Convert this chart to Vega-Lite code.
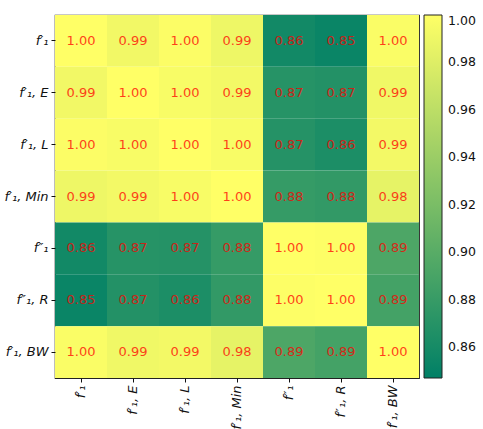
{
  "$schema": "https://vega.github.io/schema/vega-lite/v6.json",
  "autosize": "none",
  "width": 364,
  "height": 363,
  "padding": {"left": 55, "top": 15, "right": 64, "bottom": 51},
  "background": "white",
  "config": {
    "view": {"stroke": "#222", "strokeWidth": 1.2},
    "font": "DejaVu Sans",
    "axis": {"labelFont": "DejaVu Sans", "labelColor": "#111", "tickColor": "#111", "domain": false, "grid": false, "title": null, "tickSize": 4, "labelFontSize": 13, "labelFontStyle": "italic", "labelPadding": 3}
  },
  "data": {
    "values": [
      {"r": "f′₁", "c": "f′₁", "v": 1.0},
      {"r": "f′₁", "c": "f′₁, E", "v": 0.992},
      {"r": "f′₁", "c": "f′₁, L", "v": 0.998},
      {"r": "f′₁", "c": "f′₁, Min", "v": 0.99},
      {"r": "f′₁", "c": "f″₁", "v": 0.858},
      {"r": "f′₁", "c": "f″₁, R", "v": 0.853},
      {"r": "f′₁", "c": "f′₁, BW", "v": 0.997},
      {"r": "f′₁, E", "c": "f′₁", "v": 0.992},
      {"r": "f′₁, E", "c": "f′₁, E", "v": 1.0},
      {"r": "f′₁, E", "c": "f′₁, L", "v": 0.996},
      {"r": "f′₁, E", "c": "f′₁, Min", "v": 0.993},
      {"r": "f′₁, E", "c": "f″₁", "v": 0.87},
      {"r": "f′₁, E", "c": "f″₁, R", "v": 0.868},
      {"r": "f′₁, E", "c": "f′₁, BW", "v": 0.991},
      {"r": "f′₁, L", "c": "f′₁", "v": 0.998},
      {"r": "f′₁, L", "c": "f′₁, E", "v": 0.996},
      {"r": "f′₁, L", "c": "f′₁, L", "v": 1.0},
      {"r": "f′₁, L", "c": "f′₁, Min", "v": 0.996},
      {"r": "f′₁, L", "c": "f″₁", "v": 0.869},
      {"r": "f′₁, L", "c": "f″₁, R", "v": 0.864},
      {"r": "f′₁, L", "c": "f′₁, BW", "v": 0.993},
      {"r": "f′₁, Min", "c": "f′₁", "v": 0.99},
      {"r": "f′₁, Min", "c": "f′₁, E", "v": 0.993},
      {"r": "f′₁, Min", "c": "f′₁, L", "v": 0.996},
      {"r": "f′₁, Min", "c": "f′₁, Min", "v": 1.0},
      {"r": "f′₁, Min", "c": "f″₁", "v": 0.879},
      {"r": "f′₁, Min", "c": "f″₁, R", "v": 0.877},
      {"r": "f′₁, Min", "c": "f′₁, BW", "v": 0.985},
      {"r": "f″₁", "c": "f′₁", "v": 0.858},
      {"r": "f″₁", "c": "f′₁, E", "v": 0.87},
      {"r": "f″₁", "c": "f′₁, L", "v": 0.869},
      {"r": "f″₁", "c": "f′₁, Min", "v": 0.879},
      {"r": "f″₁", "c": "f″₁", "v": 1.0},
      {"r": "f″₁", "c": "f″₁, R", "v": 0.999},
      {"r": "f″₁", "c": "f′₁, BW", "v": 0.893},
      {"r": "f″₁, R", "c": "f′₁", "v": 0.853},
      {"r": "f″₁, R", "c": "f′₁, E", "v": 0.868},
      {"r": "f″₁, R", "c": "f′₁, L", "v": 0.864},
      {"r": "f″₁, R", "c": "f′₁, Min", "v": 0.877},
      {"r": "f″₁, R", "c": "f″₁", "v": 0.999},
      {"r": "f″₁, R", "c": "f″₁, R", "v": 1.0},
      {"r": "f″₁, R", "c": "f′₁, BW", "v": 0.888},
      {"r": "f′₁, BW", "c": "f′₁", "v": 0.997},
      {"r": "f′₁, BW", "c": "f′₁, E", "v": 0.991},
      {"r": "f′₁, BW", "c": "f′₁, L", "v": 0.993},
      {"r": "f′₁, BW", "c": "f′₁, Min", "v": 0.985},
      {"r": "f′₁, BW", "c": "f″₁", "v": 0.893},
      {"r": "f′₁, BW", "c": "f″₁, R", "v": 0.888},
      {"r": "f′₁, BW", "c": "f′₁, BW", "v": 1.0}
    ]
  },
  "encoding": {
    "x": {"field": "c", "type": "nominal", "sort": ["f′₁", "f′₁, E", "f′₁, L", "f′₁, Min", "f″₁", "f″₁, R", "f′₁, BW"], "scale": {"paddingInner": 0, "paddingOuter": 0}, "axis": {"labelAngle": 270}},
    "y": {"field": "r", "type": "nominal", "sort": ["f′₁", "f′₁, E", "f′₁, L", "f′₁, Min", "f″₁", "f″₁, R", "f′₁, BW"], "scale": {"paddingInner": 0, "paddingOuter": 0}}
  },
  "layer": [
    {
      "mark": {"type": "rect"},
      "encoding": {
        "color": {
          "field": "v", "type": "quantitative",
          "scale": {"domain": [0.847, 1.0], "range": ["#008066", "#ffff66"], "interpolate": "rgb", "nice": false, "zero": false},
          "legend": {
            "title": null, "orient": "right", "offset": 5, "direction": "vertical",
            "gradientLength": 363, "gradientThickness": 18,
            "gradientStrokeColor": "#222", "gradientStrokeWidth": 1,
            "values": [0.86, 0.88, 0.9, 0.92, 0.94, 0.96, 0.98, 1.0],
            "format": ".2f", "labelFontSize": 12.5, "labelColor": "#111", "labelOffset": 6, "labelFont": "DejaVu Sans", "padding": 0
          }
        }
      }
    },
    {
      "mark": {"type": "text", "fontSize": 13, "font": "DejaVu Sans", "color": "#ff0000", "opacity": 0.75},
      "encoding": {"text": {"field": "v", "type": "quantitative", "format": ".2f"}}
    }
  ]
}
